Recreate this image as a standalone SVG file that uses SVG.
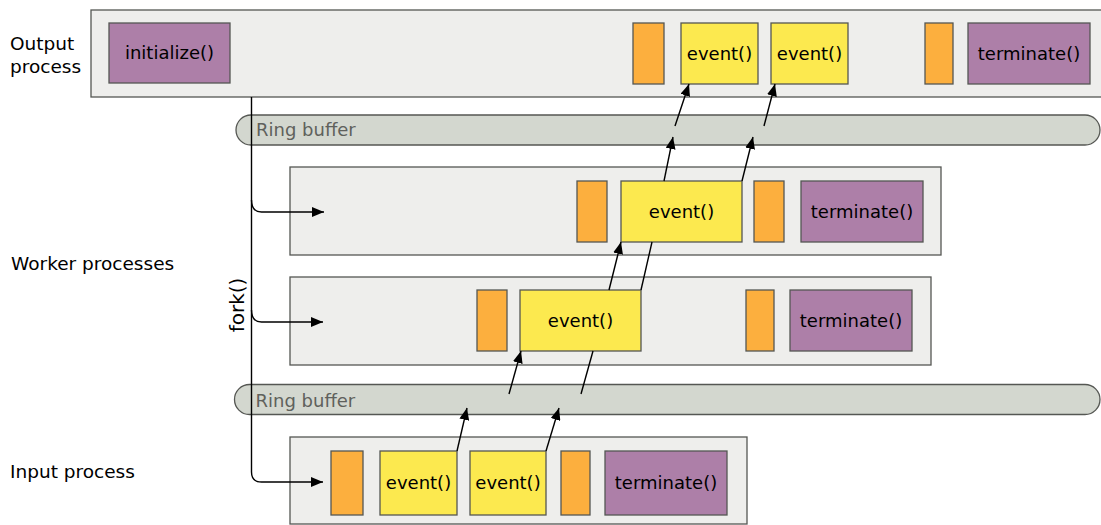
<svg xmlns="http://www.w3.org/2000/svg" width="1101" height="525" viewBox="0 0 1101 525">
<style>
text{font-family:"DejaVu Sans","Liberation Sans",sans-serif;font-size:18px;fill:#000}
.lab{font-size:18.5px}
.proc{fill:#eeeeec;stroke:#555753;stroke-width:1.3}
.ring{fill:#d3d7cf;stroke:#555753;stroke-width:1.3}
.ringt{fill:#5f615c}
.plum{fill:#ad7fa8;stroke:#555753;stroke-width:1.3}
.ev{fill:#fce94f;stroke:#555753;stroke-width:1.3}
.or{fill:#fcaf3e;stroke:#555753;stroke-width:1.3}
.c{text-anchor:middle}
.ln{fill:none;stroke:#000;stroke-width:1.4}
</style>
<defs>
<marker id="ah" markerUnits="userSpaceOnUse" viewBox="0 0 12 10" refX="12" refY="5" markerWidth="12" markerHeight="10" orient="auto">
<path d="M0,0 L12,5 L0,10 z" fill="#000"/>
</marker>
</defs>

<g id="labels">
<text class="lab" x="10" y="50">Output</text>
<text class="lab" x="10" y="73">process</text>
<text class="lab" x="11" y="270">Worker processes</text>
<text class="lab" x="10" y="478">Input process</text>
</g>

<g id="output-process">
<rect class="proc" x="91" y="10" width="1012" height="87"/>
<rect class="plum" x="109" y="23" width="121" height="60"/>
<text class="c" x="169.5" y="59">initialize()</text>
<rect class="or" x="633" y="23" width="31" height="61"/>
<rect class="ev" x="681" y="23" width="77" height="61"/>
<text class="c" x="719.5" y="59.5">event()</text>
<rect class="ev" x="771" y="23" width="77" height="61"/>
<text class="c" x="809.5" y="59.5">event()</text>
<rect class="or" x="925" y="23" width="28" height="61"/>
<rect class="plum" x="968" y="23" width="122" height="61"/>
<text class="c" x="1029" y="59.5">terminate()</text>
</g>

<g id="ring-buffer-top">
<rect class="ring" x="236" y="115" width="864" height="30" rx="15"/>
<text class="ringt" x="256" y="136">Ring buffer</text>
</g>

<g id="worker-1">
<rect class="proc" x="290" y="167" width="651" height="88"/>
<rect class="or" x="577" y="181" width="30" height="61"/>
<rect class="ev" x="621" y="181" width="121" height="61"/>
<text class="c" x="681.5" y="217.5">event()</text>
<rect class="or" x="754" y="181" width="30" height="61"/>
<rect class="plum" x="801" y="181" width="122" height="61"/>
<text class="c" x="862" y="217.5">terminate()</text>
</g>

<g id="worker-2">
<rect class="proc" x="290" y="277" width="641" height="88"/>
<rect class="or" x="477" y="290" width="30" height="61"/>
<rect class="ev" x="520" y="290" width="121" height="61"/>
<text class="c" x="580.5" y="326.5">event()</text>
<rect class="or" x="746" y="290" width="28" height="61"/>
<rect class="plum" x="790" y="290" width="122" height="61"/>
<text class="c" x="851" y="326.5">terminate()</text>
</g>

<g id="ring-buffer-bottom">
<rect class="ring" x="234.5" y="384.5" width="865.5" height="30" rx="15"/>
<text class="ringt" x="255.5" y="407">Ring buffer</text>
</g>

<g id="input-process">
<rect class="proc" x="290" y="437" width="457" height="87"/>
<rect class="or" x="331" y="451" width="32" height="64"/>
<rect class="ev" x="380" y="451" width="77" height="64"/>
<text class="c" x="418.5" y="489">event()</text>
<rect class="ev" x="470" y="451" width="76" height="64"/>
<text class="c" x="508" y="489">event()</text>
<rect class="or" x="561" y="451" width="29" height="64"/>
<rect class="plum" x="605" y="451" width="122" height="64"/>
<text class="c" x="666" y="489">terminate()</text>
</g>

<g id="fork-label">
<text class="c" style="font-size:20px" transform="translate(243.5,305) rotate(-90)">fork()</text>
</g>

<g id="connectors">
<path class="ln" d="M251.5,97 V472 Q251.5,482 261.5,482 H323" marker-end="url(#ah)"/>
<path class="ln" d="M251.5,200 Q251.5,212 261.5,212 H324" marker-end="url(#ah)"/>
<path class="ln" d="M251.5,310 Q251.5,322 261.5,322 H323" marker-end="url(#ah)"/>
<line class="ln" x1="457" y1="451" x2="467" y2="408" marker-end="url(#ah)"/>
<line class="ln" x1="546" y1="451" x2="559" y2="408" marker-end="url(#ah)"/>
<line class="ln" x1="509" y1="394" x2="521" y2="351" marker-end="url(#ah)"/>
<line class="ln" x1="581" y1="394" x2="593" y2="351"/>
<line class="ln" x1="609" y1="290" x2="621" y2="242" marker-end="url(#ah)"/>
<line class="ln" x1="641" y1="290" x2="652" y2="242"/>
<line class="ln" x1="664" y1="181" x2="673" y2="137" marker-end="url(#ah)"/>
<line class="ln" x1="742" y1="181" x2="753" y2="137" marker-end="url(#ah)"/>
<line class="ln" x1="675" y1="126" x2="689" y2="84" marker-end="url(#ah)"/>
<line class="ln" x1="764" y1="126" x2="775" y2="84" marker-end="url(#ah)"/>
</g>
</svg>
